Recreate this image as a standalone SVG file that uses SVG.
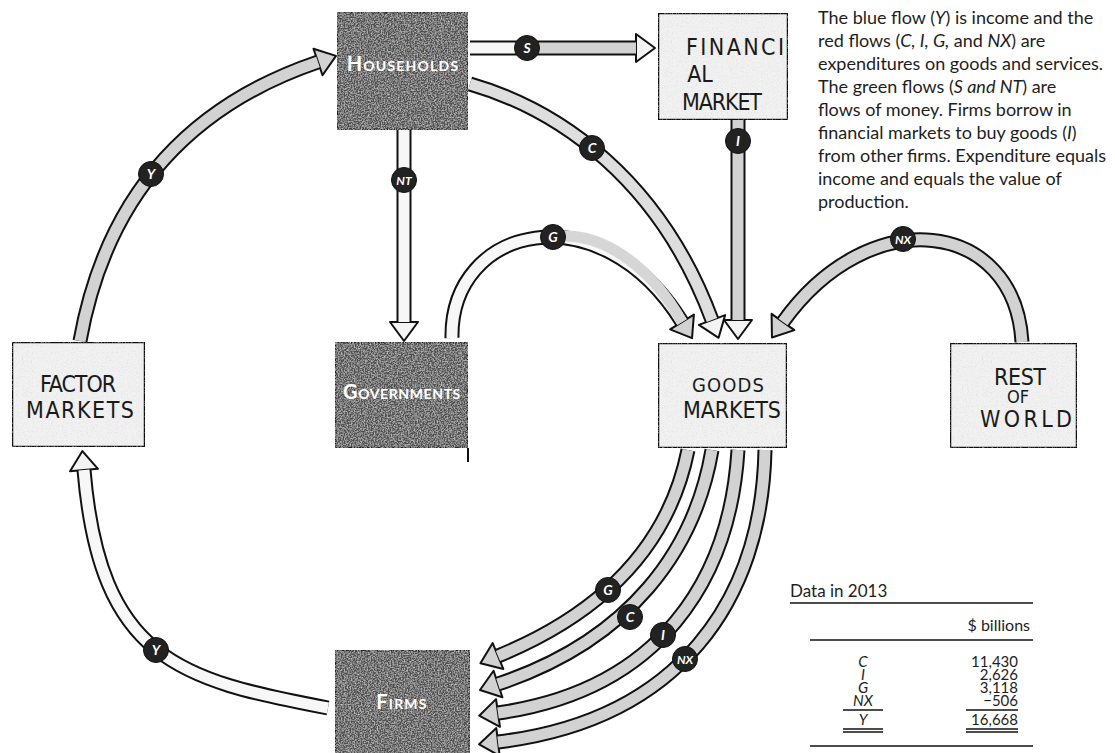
<svg xmlns="http://www.w3.org/2000/svg" width="1115" height="753" viewBox="0 0 1115 753">
<defs>
<filter id="grainDark" x="0" y="0" width="100%" height="100%">
<feTurbulence type="fractalNoise" baseFrequency="0.7" numOctaves="2" seed="4" result="n"/>
<feColorMatrix in="n" type="matrix" values="0 0 0 0 0.85  0 0 0 0 0.85  0 0 0 0 0.85  1.3 0 0 0 -0.5" result="w"/>
<feComposite in="w" in2="SourceGraphic" operator="in" result="wm"/>
<feMerge><feMergeNode in="SourceGraphic"/><feMergeNode in="wm"/></feMerge>
</filter>
<filter id="grainLight" x="0" y="0" width="100%" height="100%">
<feTurbulence type="fractalNoise" baseFrequency="0.8" numOctaves="2" seed="9" result="n"/>
<feColorMatrix in="n" type="matrix" values="0 0 0 0 0.55  0 0 0 0 0.55  0 0 0 0 0.55  1.2 0 0 0 -0.62" result="d"/>
<feComposite in="d" in2="SourceGraphic" operator="in" result="dm"/>
<feMerge><feMergeNode in="SourceGraphic"/><feMergeNode in="dm"/></feMerge>
</filter>
<marker id="headG" markerUnits="userSpaceOnUse" viewBox="-3 -17 26 34" markerWidth="26" markerHeight="34" refX="0" refY="0" orient="auto">
<path d="M0,-14 L19,0 L0,14 Z" fill="#d2d2d2" stroke="#111" stroke-width="2" stroke-linejoin="round"/>
</marker>
<marker id="headW" markerUnits="userSpaceOnUse" viewBox="-3 -17 26 34" markerWidth="26" markerHeight="34" refX="0" refY="0" orient="auto">
<path d="M0,-14 L19,0 L0,14 Z" fill="#f4f4f4" stroke="#111" stroke-width="2" stroke-linejoin="round"/>
</marker>
<style>
.dark{fill:#4f4f4f;stroke:#222;stroke-width:2.5}
.light{fill:#f1f1f1;stroke:#111;stroke-width:2.5}
.dlabel{font-family:Lato,"Open Sans",sans-serif;font-weight:700;font-variant:small-caps;fill:#fff;font-size:20px;letter-spacing:1.2px;text-anchor:middle}
.hand{font-family:"DejaVu Sans Condensed","Liberation Sans Narrow",sans-serif;font-size:23px;fill:#1a1a1a;text-anchor:middle}
.ol{fill:none;stroke:#111;stroke-width:15;stroke-linecap:butt}
.fg{fill:none;stroke:#d2d2d2;stroke-width:11;stroke-linecap:butt}
.fw{fill:none;stroke:#f7f7f7;stroke-width:11;stroke-linecap:butt}
.badge circle{fill:#222;stroke:#111;stroke-width:1}
.badge text{font-family:Lato,"Open Sans",sans-serif;font-weight:700;font-style:italic;fill:#fff;font-size:14px;text-anchor:middle}
.para{font-family:Lato,"Open Sans",sans-serif;font-size:18px;fill:#1e1e1e}
.tab{font-family:Lato,"Open Sans",sans-serif;font-size:15px;fill:#1e1e1e}
.rule{stroke:#111;stroke-width:1.6}
</style>
</defs>
<rect width="1115" height="753" fill="#ffffff"/>

<g id="connectors">
<!-- S -->
<path class="ol" d="M470 48 L636 48" marker-end="url(#headW)"/>
<path class="fw" d="M470 48 L527 48"/>
<path class="fg" d="M527 48 L636 48"/>
<!-- C top -->
<path class="ol" d="M470 84 C560 110 660 180 712 320" marker-end="url(#headW)"/>
<path class="fg" d="M470 84 C560 110 660 180 712 320" style="stroke:#dedede"/>
<!-- I -->
<path class="ol" d="M738 120 L738 320" marker-end="url(#headW)"/>
<path class="fg" d="M738 120 L738 320"/>
<!-- NT -->
<path class="ol" d="M404 130 L404 322" marker-end="url(#headW)"/>
<path class="fw" d="M404 130 L404 322"/>
<!-- G top -->
<path class="ol" d="M452 338 C450 225 600 190 682 322" marker-end="url(#headG)"/>
<path class="fw" d="M452 338 C450 225 600 190 682 322"/>
<path class="fg" d="M553 237 C600 230 650 265 682 322" style="stroke:#d6d6d6"/>
<!-- NX top -->
<path class="ol" d="M1022 342 C1015 220 870 200 783 322" marker-end="url(#headG)"/>
<path class="fg" d="M1022 342 C1015 220 870 200 783 322"/>
<!-- Y top -->
<path class="ol" d="M80 341 Q118 130 318 62" marker-end="url(#headG)"/>
<path class="fg" d="M80 341 Q118 130 318 62"/>
<!-- Y bottom -->
<path class="ol" d="M328 708 C180 680 100 660 84 470" marker-end="url(#headW)"/>
<path class="fw" d="M328 708 C180 680 100 660 84 470"/>
<!-- lower G, C, I, NX -->
<path class="ol" d="M688 450 C670 540 610 610 498 656" marker-end="url(#headG)"/>
<path class="fg" d="M688 450 C670 540 610 610 498 656"/>
<path class="ol" d="M712 450 C695 550 630 640 498 684" marker-end="url(#headG)"/>
<path class="fg" d="M712 450 C695 550 630 640 498 684"/>
<path class="ol" d="M738 450 C730 580 660 690 498 713" marker-end="url(#headG)"/>
<path class="fg" d="M738 450 C730 580 660 690 498 713"/>
<path class="ol" d="M765 450 C762 600 680 720 498 742" marker-end="url(#headG)"/>
<path class="fg" d="M765 450 C762 600 680 720 498 742"/>

<!-- badges -->
<g class="badge"><circle cx="527" cy="48" r="12.5"/><text x="527" y="53">S</text></g>
<g class="badge"><circle cx="592" cy="148" r="12.5"/><text x="592" y="153">C</text></g>
<g class="badge"><circle cx="738" cy="141" r="12.5"/><text x="738" y="146">I</text></g>
<g class="badge"><circle cx="404" cy="180" r="12.5"/><text x="404" y="184.5" style="font-size:12px">NT</text></g>
<g class="badge"><circle cx="553" cy="237" r="12.5"/><text x="553" y="242">G</text></g>
<g class="badge"><circle cx="903" cy="239" r="12.5"/><text x="903" y="243.5" style="font-size:12px">NX</text></g>
<g class="badge"><circle cx="151" cy="174" r="12.5"/><text x="151" y="179">Y</text></g>
<g class="badge"><circle cx="156" cy="650" r="12.5"/><text x="156" y="655">Y</text></g>
<g class="badge"><circle cx="608" cy="590" r="12.5"/><text x="608" y="595">G</text></g>
<g class="badge"><circle cx="630" cy="617" r="12.5"/><text x="630" y="622">C</text></g>
<g class="badge"><circle cx="663" cy="635" r="12.5"/><text x="663" y="640">I</text></g>
<g class="badge"><circle cx="685" cy="659" r="12.5"/><text x="685" y="663.5" style="font-size:12px">NX</text></g>
</g>

<g id="households">
<rect class="dark" x="337" y="12" width="131" height="118" filter="url(#grainDark)"/>
<text class="dlabel" x="403" y="71">Households</text>
</g>
<g id="financial-market">
<rect class="light" x="658" y="13" width="130" height="107" filter="url(#grainLight)"/>
<text class="hand" x="735" y="55" textLength="98" lengthAdjust="spacing">FINANCI</text>
<text class="hand" x="700" y="82">AL</text>
<text class="hand" x="722" y="110" textLength="80" lengthAdjust="spacing">MARKET</text>
</g>
<g id="factor-markets">
<rect class="light" x="12" y="342" width="133" height="105" filter="url(#grainLight)"/>
<text class="hand" x="78" y="392" textLength="76" lengthAdjust="spacing">FACTOR</text>
<text class="hand" x="80" y="418" textLength="108" lengthAdjust="spacing">MARKETS</text>
</g>
<g id="governments">
<rect class="dark" x="335" y="342" width="133" height="106" filter="url(#grainDark)"/>
<line x1="468" y1="448" x2="468" y2="462" stroke="#111" stroke-width="2"/>
<text class="dlabel" x="402" y="399" style="letter-spacing:0.6px">Governments</text>
</g>
<g id="goods-markets">
<rect class="light" x="658" y="343" width="129" height="105" filter="url(#grainLight)"/>
<text class="hand" x="728" y="392" textLength="72" lengthAdjust="spacing" style="font-size:20px">GOODS</text>
<text class="hand" x="732" y="418" textLength="98" lengthAdjust="spacing">MARKETS</text>
</g>
<g id="rest-of-world">
<rect class="light" x="950" y="343" width="127" height="105" filter="url(#grainLight)"/>
<text class="hand" x="1020" y="385" textLength="52" lengthAdjust="spacing">REST</text>
<text class="hand" x="1018" y="403" style="font-size:18px">OF</text>
<text class="hand" x="1026" y="427" textLength="92" lengthAdjust="spacing">WORLD</text>
</g>
<g id="firms">
<rect class="dark" x="335" y="650" width="135" height="106" filter="url(#grainDark)"/>
<text class="dlabel" x="402" y="709">Firms</text>
</g>

<g id="caption" class="para">
<text x="818" y="24">The blue flow (<tspan font-style="italic">Y</tspan>) is income and the</text>
<text x="818" y="47">red flows (<tspan font-style="italic">C, I, G,</tspan> and <tspan font-style="italic">NX</tspan>) are</text>
<text x="818" y="70">expenditures on goods and services.</text>
<text x="818" y="93">The green flows (<tspan font-style="italic">S and NT</tspan>) are</text>
<text x="818" y="116">flows of money. Firms borrow in</text>
<text x="818" y="139">financial markets to buy goods (<tspan font-style="italic">I</tspan>)</text>
<text x="818" y="162">from other firms. Expenditure equals</text>
<text x="818" y="185">income and equals the value of</text>
<text x="818" y="208">production.</text>
</g>

<g id="data-table" class="tab">
<text x="790" y="597" style="font-size:17px">Data in 2013</text>
<line class="rule" x1="790" y1="603" x2="1033" y2="603"/>
<text x="1030" y="631" text-anchor="end" style="font-size:16px">$ billions</text>
<line class="rule" x1="810" y1="640" x2="1033" y2="640"/>
<g font-style="italic" text-anchor="middle">
<text x="863" y="667">C</text>
<text x="863" y="680">I</text>
<text x="863" y="693">G</text>
<text x="863" y="706">NX</text>
<text x="863" y="725">Y</text>
</g>
<g text-anchor="end">
<text x="1018" y="667">11,430</text>
<text x="1018" y="680">2,626</text>
<text x="1018" y="693">3,118</text>
<text x="1018" y="706">−506</text>
<text x="1018" y="725">16,668</text>
</g>
<line class="rule" x1="843" y1="710" x2="883" y2="710" stroke-width="1"/>
<line class="rule" x1="966" y1="710" x2="1018" y2="710" stroke-width="1"/>
<line class="rule" x1="843" y1="729" x2="883" y2="729" stroke-width="1"/>
<line class="rule" x1="843" y1="732" x2="883" y2="732" stroke-width="1"/>
<line class="rule" x1="966" y1="729" x2="1018" y2="729" stroke-width="1"/>
<line class="rule" x1="966" y1="732" x2="1018" y2="732" stroke-width="1"/>
<line class="rule" x1="810" y1="746" x2="1033" y2="746"/>
</g>
</svg>
